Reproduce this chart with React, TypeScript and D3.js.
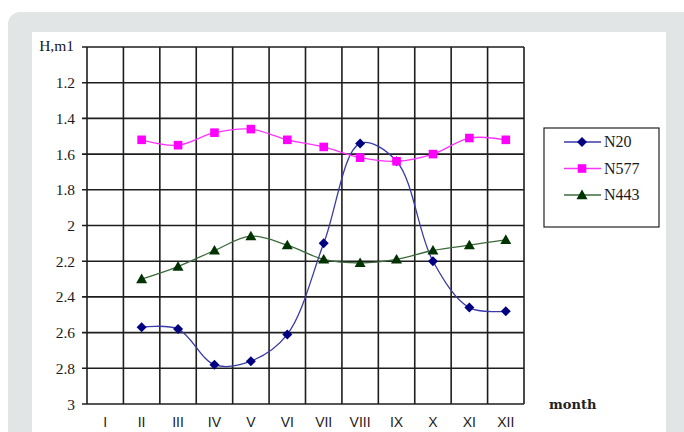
import React from "react";
import * as d3 from "d3";

const months = ["I", "II", "III", "IV", "V", "VI", "VII", "VIII", "IX", "X", "XI", "XII"];
const n20: (number | null)[] = [null, 2.57, 2.58, 2.78, 2.76, 2.61, 2.1, 1.54, 1.64, 2.2, 2.46, 2.48];
const n577: (number | null)[] = [null, 1.52, 1.55, 1.48, 1.46, 1.52, 1.56, 1.62, 1.64, 1.6, 1.51, 1.52];
const n443: (number | null)[] = [null, 2.3, 2.23, 2.14, 2.06, 2.11, 2.19, 2.21, 2.19, 2.14, 2.11, 2.08];
const yTicks = [1, 1.2, 1.4, 1.6, 1.8, 2, 2.2, 2.4, 2.6, 2.8, 3];

const seriesList = [
  { name: "N20", values: n20, color: "#000080", line: "#3a3aa8", marker: "diamond" },
  { name: "N577", values: n577, color: "#ff00ff", line: "#ff33ff", marker: "square" },
  { name: "N443", values: n443, color: "#003300", line: "#3d6b3d", marker: "triangle" },
];

const W = 684;
const H = 432;
const L = 87, R = 524, T = 47, B = 404;

function Marker({ type, x, y, color }: { type: string; x: number; y: number; color: string }) {
  if (type === "diamond") {
    const s = 5;
    return <path d={`M${x},${y - s}L${x + s},${y}L${x},${y + s}L${x - s},${y}Z`} fill={color} />;
  }
  if (type === "square") {
    const s = 4.3;
    return <rect x={x - s} y={y - s} width={2 * s} height={2 * s} fill={color} />;
  }
  const s = 5.5;
  return <path d={`M${x},${y - s}L${x + s},${y + s * 0.75}L${x - s},${y + s * 0.75}Z`} fill={color} />;
}

const serifStyle = { fontFamily: '"Liberation Serif", "Times New Roman", Times, serif' };
const sansStyle = { fontFamily: '"Liberation Sans", Arial, Helvetica, sans-serif' };

export default function App() {
  const x = d3.scalePoint<string>().domain(months).range([L, R]).padding(0.5);
  const band = (R - L) / months.length;
  const y = d3.scaleLinear().domain([1, 3]).range([T, B]);

  return (
    <svg width={W} height={H} style={{ position: "absolute", left: 0, top: 0 }}>
      <rect x={0} y={0} width={W} height={H} fill="#ffffff" />
      <rect x={8} y={12} width={690} height={440} rx={12} fill="#e2e5e6" />
      <rect x={32} y={32} width={634} height={420} fill="#ffffff" />

      {/* horizontal grid */}
      {yTicks.map((t) => (
        <line key={"h" + t} x1={L - 5} x2={R} y1={y(t)} y2={y(t)} stroke="#1e1e1e" strokeWidth={1.6} />
      ))}
      {/* vertical grid */}
      {d3.range(months.length + 1).map((i) => (
        <line key={"v" + i} x1={L + i * band} x2={L + i * band} y1={T} y2={B} stroke="#1e1e1e" strokeWidth={1.6} />
      ))}

      {/* y labels */}
      {yTicks.map((t) =>
        t === 1 ? (
          <text key={"yl" + t} x={74} y={y(t) + 4} textAnchor="end" style={serifStyle} fontSize={15.5} fill="#1a1a1a">
            H,m1
          </text>
        ) : (
          <text key={"yl" + t} x={75} y={y(t) + 5.5} textAnchor="end" style={serifStyle} fontSize={15.5} fill="#1a1a1a">
            {String(t)}
          </text>
        )
      )}

      {/* x labels */}
      {months.map((m) => (
        <text key={"xl" + m} x={x(m)} y={427} textAnchor="middle" style={sansStyle} fontSize={14} fill="#222">
          {m}
        </text>
      ))}
      <text x={549} y={409} style={{ fontFamily: '"DejaVu Serif", serif' }} fontSize={13} fontWeight="bold" fill="#222">
        month
      </text>

      {/* series */}
      {seriesList.map((s) => {
        const pts = s.values
          .map((v, i) => (v == null ? null : ([x(months[i]) as number, y(v)] as [number, number])))
          .filter((p): p is [number, number] => p != null);
        const path = d3.line().curve(d3.curveCatmullRom.alpha(0.5))(pts) || "";
        return (
          <g key={s.name}>
            <path d={path} fill="none" stroke={s.line} strokeWidth={1.3} />
            {pts.map((p, i) => (
              <Marker key={i} type={s.marker} x={p[0]} y={p[1]} color={s.color} />
            ))}
          </g>
        );
      })}

      {/* legend */}
      <rect x={544} y={128} width={115} height={99} fill="#ffffff" stroke="#222" strokeWidth={1.2} />
      {seriesList.map((s, i) => {
        const ly = 142 + i * 26.5;
        return (
          <g key={"lg" + s.name}>
            <line x1={564} x2={601} y1={ly} y2={ly} stroke={s.line} strokeWidth={1.3} />
            <Marker type={s.marker} x={582} y={ly} color={s.color} />
            <text x={604} y={ly + 5} style={serifStyle} fontSize={16} fill="#1a1a1a">
              {s.name}
            </text>
          </g>
        );
      })}
    </svg>
  );
}
